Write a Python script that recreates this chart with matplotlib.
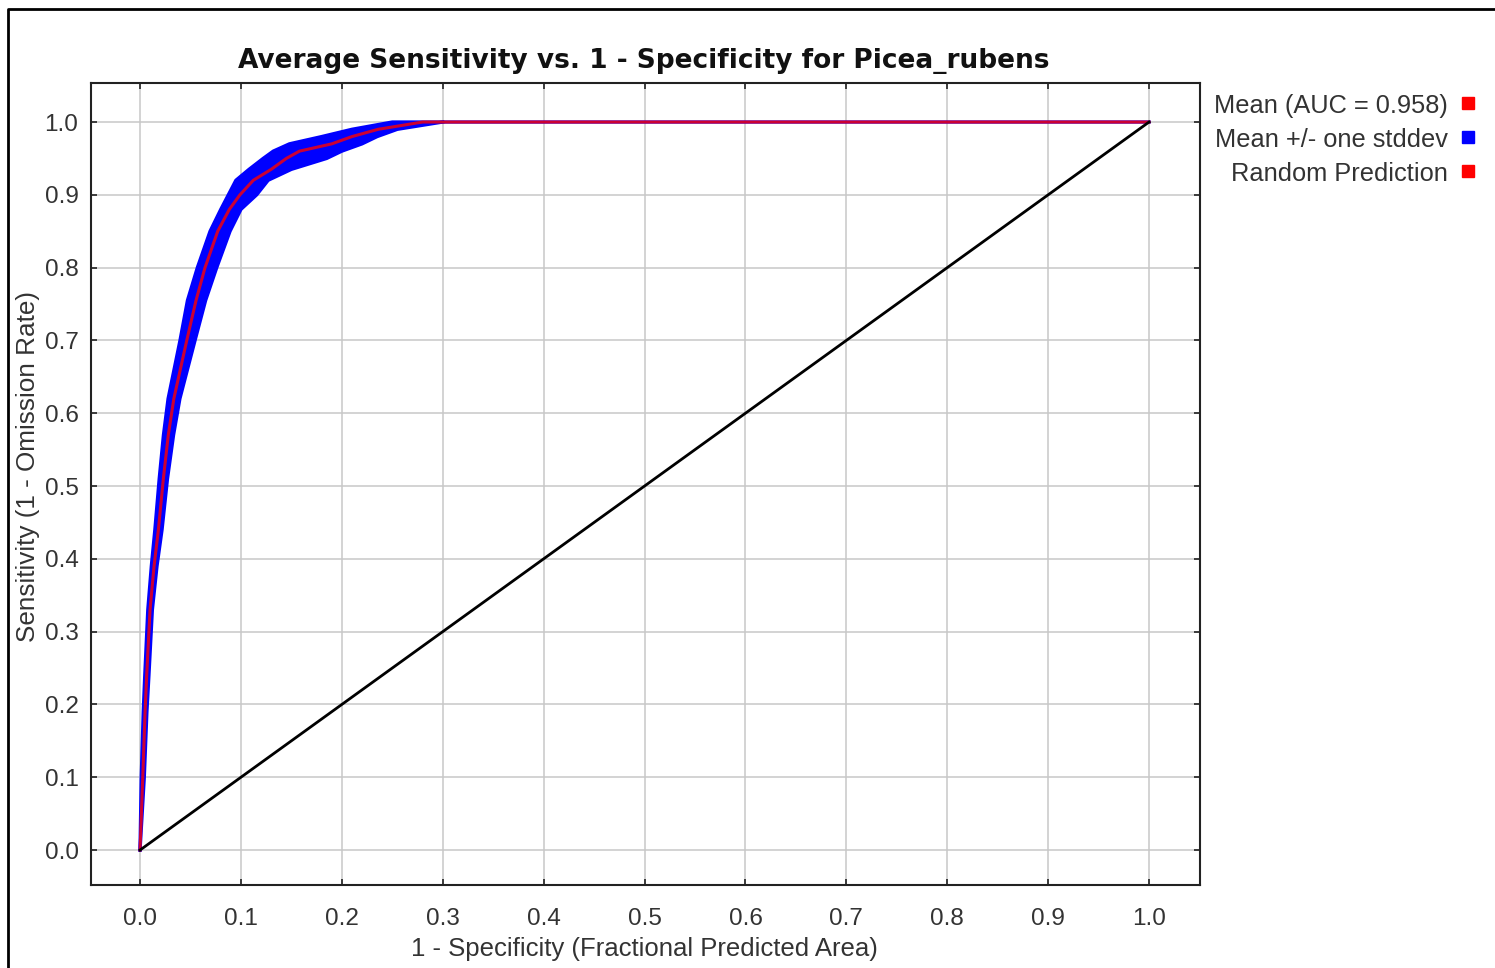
import matplotlib
matplotlib.use("Agg")
import matplotlib.pyplot as plt
from matplotlib.lines import Line2D
from matplotlib.patches import Rectangle

# ROC data (sensitivity vs. fractional predicted area)
sens = [0.0, 0.10, 0.19, 0.24, 0.33, 0.39, 0.44, 0.51, 0.57, 0.62, 0.70, 0.755,
        0.80, 0.85, 0.88, 0.90, 0.92, 0.935, 0.95, 0.96, 0.97, 0.98, 0.99, 1.0]
fpr_mean = [0.0, 0.0027, 0.005, 0.0066, 0.0099, 0.0139, 0.0182, 0.0231, 0.028, 0.0335,
            0.0463, 0.0555, 0.0644, 0.077, 0.0885, 0.099, 0.1123, 0.13, 0.145, 0.158,
            0.19, 0.21, 0.236, 0.28]
fpr_lo = [0.0, 0.0012, 0.0032, 0.0047, 0.0077, 0.0112, 0.0147, 0.0190, 0.0232, 0.0278,
          0.0396, 0.0470, 0.0568, 0.0694, 0.080, 0.0875, 0.095, 0.108, 0.122, 0.132,
          0.148, 0.18, 0.21, 0.25]
fpr_hi = [0.0, 0.0042, 0.0068, 0.0088, 0.0122, 0.0168, 0.0218, 0.0272, 0.0332, 0.0395,
          0.0545, 0.0650, 0.076, 0.0892, 0.100, 0.1156, 0.127, 0.150, 0.185, 0.20,
          0.22, 0.235, 0.255, 0.30]
random_x = [0.0, 1.0]
random_y = [0.0, 1.0]

ticks = [0.0, 0.1, 0.2, 0.3, 0.4, 0.5, 0.6, 0.7, 0.8, 0.9, 1.0]
tick_labels = ["0.0", "0.1", "0.2", "0.3", "0.4", "0.5", "0.6", "0.7", "0.8", "0.9", "1.0"]

title = "Average Sensitivity vs. 1 - Specificity for Picea_rubens"
xlabel = "1 - Specificity (Fractional Predicted Area)"
ylabel = "Sensitivity (1 - Omission Rate)"
legend_labels = ["Mean (AUC = 0.958)", "Mean +/- one stddev", "Random Prediction"]
legend_colors = ["#ff0000", "#0000ff", "#ff0000"]

W, H = 1495, 968
fig = plt.figure(figsize=(W / 100, H / 100), dpi=100)
fig.patch.set_facecolor("white")


def fx(px):
    return px / W


def fy(py):
    return 1 - py / H


sans = ["Liberation Sans", "DejaVu Sans"]

# outer frame (only top and left edges are visible in the picture)
fig.add_artist(Line2D([fx(8), fx(8), fx(W + 5)], [fy(H + 5), fy(9), fy(9)],
                      transform=fig.transFigure, color="black", lw=2.0))

ax = fig.add_axes([fx(91), fy(885), fx(1200) - fx(91), fy(83) - fy(885)])
ax.set_xlim(-0.0486, 1.0505)
ax.set_ylim(-0.048, 1.0536)

# grid
ax.set_axisbelow(True)
ax.grid(True, color="#c8c8c8", lw=1.1)

# std band
fpr_lo_ext = fpr_lo + [1.0]
sens_ext = sens + [1.0]
ax.fill_betweenx(sens, fpr_lo, fpr_hi, color="#0000ff", lw=0, zorder=2)
ax.plot(fpr_lo_ext, sens_ext, color="#0000ff", lw=2.4, zorder=2)
ax.plot(fpr_hi, sens, color="#0000ff", lw=2.4, zorder=2)

# mean curve
ax.plot(fpr_mean + [1.0], sens + [1.0], color="#ff0000", lw=2.2, alpha=0.8, zorder=3)

# random prediction
ax.plot(random_x, random_y, color="black", lw=2.0, zorder=4)

ax.set_xticks(ticks)
ax.set_yticks(ticks)
ax.set_xticklabels(tick_labels, family=sans, fontsize=17.5, color="#333333")
ax.set_yticklabels(tick_labels, family=sans, fontsize=17.5, color="#333333")
ax.tick_params(direction="in", length=4.5, width=1.2, color="#222222",
               top=True, right=True, labeltop=False, labelright=False)
ax.tick_params(axis="x", pad=16.5)
ax.tick_params(axis="y", pad=9)
for s in ax.spines.values():
    s.set_color("#222222")
    s.set_linewidth(1.5)

fig.text(fx(644), fy(61), title, ha="center", va="center", fontsize=19,
         fontweight="bold", family="DejaVu Sans", color="#111111")
fig.text(fx(644), fy(949), xlabel, ha="center", va="center", fontsize=18.5,
         family=sans, color="#333333")
fig.text(fx(28), fy(466), ylabel, ha="center", va="center", fontsize=18.8,
         rotation=90, family=sans, color="#333333")

# legend on the right
for i, (lab, col) in enumerate(zip(legend_labels, legend_colors)):
    yc = 106 + i * 34
    fig.text(fx(1448), fy(yc), lab, ha="right", va="center", fontsize=18.3,
             family=sans, color="#333333")
    fig.add_artist(Rectangle((fx(1462), fy(yc + 3)), fx(12), 12 / H,
                             transform=fig.transFigure, color=col))

fig.savefig("out.png", dpi=100)
